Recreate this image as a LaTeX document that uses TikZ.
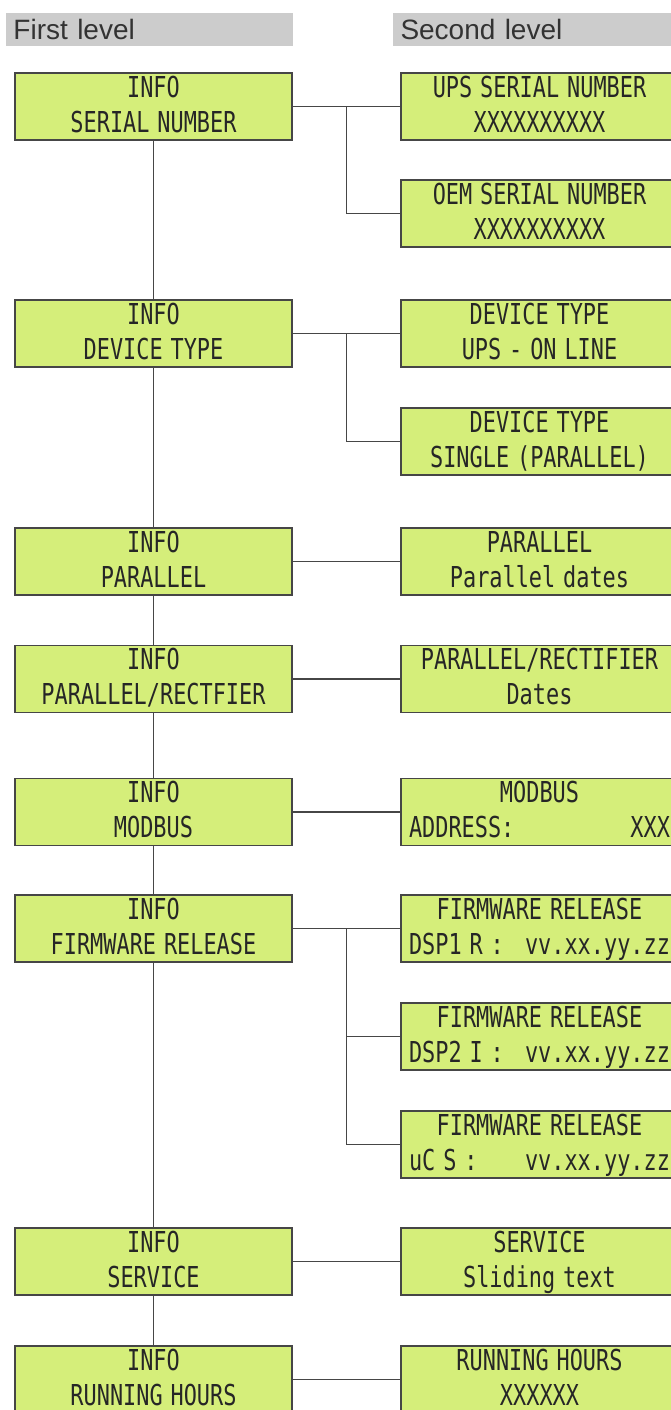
\documentclass[tikz,border=0pt]{standalone}
\usepackage{fontspec}
\usetikzlibrary{calc}
\newfontfamily\lcdfont[FakeStretch=0.76,WordSpace=0.6]{DejaVu Sans Mono}
\newfontfamily\hdrfont{Liberation Sans}
\definecolor{lcdgreen}{RGB}{213,238,122}
\definecolor{lcdline}{RGB}{70,70,70}
\definecolor{hdrgray}{RGB}{204,204,204}
% two display lines with fixed struts
\newcommand{\lcd}[2]{\rule{0pt}{18pt}#1\\#2\rule[-6pt]{0pt}{6pt}}
\newcommand{\lcdrow}[2]{\makebox[195.75pt]{#1\hfill#2}}

\tikzset{every picture/.style={line width=0.75pt}}
\tikzset{
  lcdbox/.style={draw=lcdline, fill=lcdgreen, line width=1.1pt, minimum width=207.75pt,
    minimum height=50.25pt, inner sep=0pt, align=center, text=black!85,
    font=\lcdfont\fontsize{21.6}{26.25}\selectfont},
  hdr/.style={fill=hdrgray, anchor=north west, text width=203.25pt, inner xsep=6pt,
    minimum height=24.75pt, text height=15pt, text depth=0pt, text=black!80,
    font=\hdrfont\fontsize{21}{24}\selectfont},
  link/.style={draw=lcdline, line width=1.1pt}
}

\begin{document}
\begin{tikzpicture}[x=0.75pt,y=0.75pt,yscale=-1,xscale=1]
\useasboundingbox (0,0) rectangle (671,1410);

% Headers
\node [hdr] (lvlone) at (5,12) {First level};
\node [hdr] (lvltwo) at (392,12) {Second level};

% First level
\node [lcdbox] (serial) at (153.5,106.5) {\lcd{INFO}{SERIAL NUMBER}};
\node [lcdbox] (device) at (153.5,333.5) {\lcd{INFO}{DEVICE TYPE}};
\node [lcdbox] (parallel) at (153.5,561.5) {\lcd{INFO}{PARALLEL}};
\node [lcdbox] (rectifier) at (153.5,679) {\lcd{INFO}{PARALLEL/RECTFIER}};
\node [lcdbox] (modbus) at (153.5,812) {\lcd{INFO}{MODBUS}};
\node [lcdbox] (firmware) at (153.5,928.5) {\lcd{INFO}{FIRMWARE RELEASE}};
\node [lcdbox] (service) at (153.5,1261.5) {\lcd{INFO}{SERVICE}};
\node [lcdbox] (hours) at (153.5,1379.5) {\lcd{INFO}{RUNNING HOURS}};

% Second level
\node [lcdbox] (upsser) at (539.5,106.5) {\lcd{UPS SERIAL NUMBER}{XXXXXXXXXX}};
\node [lcdbox] (oemser) at (539.5,213.5) {\lcd{OEM SERIAL NUMBER}{XXXXXXXXXX}};
\node [lcdbox] (devline) at (539.5,333.5) {\lcd{DEVICE TYPE}{UPS - ON LINE}};
\node [lcdbox] (devsingle) at (539.5,441.5) {\lcd{DEVICE TYPE}{SINGLE (PARALLEL)}};
\node [lcdbox] (pardates) at (539.5,561.5) {\lcd{PARALLEL}{Parallel dates}};
\node [lcdbox] (recdates) at (539.5,679) {\lcd{PARALLEL/RECTIFIER}{Dates}};
\node [lcdbox] (address) at (539.5,812) {\lcd{MODBUS}{\lcdrow{ADDRESS:}{XXX}}};
\node [lcdbox] (dspr) at (539.5,928.5) {\lcd{FIRMWARE RELEASE}{\lcdrow{DSP1 R :}{vv.xx.yy.zz}}};
\node [lcdbox] (dspi) at (539.5,1036.5) {\lcd{FIRMWARE RELEASE}{\lcdrow{DSP2 I :}{vv.xx.yy.zz}}};
\node [lcdbox] (ucs) at (539.5,1144.5) {\lcd{FIRMWARE RELEASE}{\lcdrow{uC S :}{vv.xx.yy.zz}}};
\node [lcdbox] (sliding) at (539.5,1261.5) {\lcd{SERVICE}{Sliding text}};
\node [lcdbox] (hourval) at (539.5,1379.5) {\lcd{RUNNING HOURS}{XXXXXX}};

% Main column
\draw [link] (serial) -- (device);
\draw [link] (device) -- (parallel);
\draw [link] (parallel) -- (rectifier);
\draw [link] (rectifier) -- (modbus);
\draw [link] (modbus) -- (firmware);
\draw [link] (firmware) -- (service);
\draw [link] (service) -- (hours);

% Branches
\draw [link] (serial) -- (upsser);
\draw [link] ($(serial.east)!0.5!(upsser.west)$) |- (oemser.west);
\draw [link] (device) -- (devline);
\draw [link] ($(device.east)!0.5!(devline.west)$) |- (devsingle.west);
\draw [link] (parallel) -- (pardates);
\draw [link] (rectifier) -- (recdates);
\draw [link] (modbus) -- (address);
\draw [link] (firmware) -- (dspr);
\draw [link] ($(firmware.east)!0.5!(dspr.west)$) |- (dspi.west);
\draw [link] ($(firmware.east)!0.5!(dspr.west)$) |- (ucs.west);
\draw [link] (service) -- (sliding);
\draw [link] (hours) -- (hourval);

\end{tikzpicture}
\end{document}
